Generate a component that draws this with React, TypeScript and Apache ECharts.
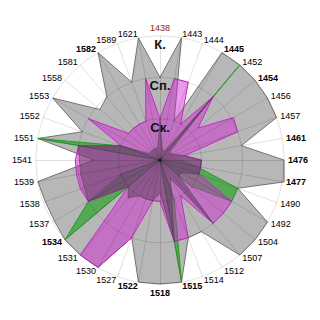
import React, { useEffect, useRef } from 'react';
import * as echarts from 'echarts';

// Categories, clockwise from the top
const categories = [
  '1438', '1443', '1444', '1445', '1452', '1454', '1456', '1457', '1461', '1476',
  '1477', '1490', '1492', '1504', '1507', '1512', '1514', '1515', '1518', '1522',
  '1527', '1530', '1531', '1534', '1537', '1538', '1539', '1541', '1551', '1552',
  '1553', '1558', '1581', '1582', '1589', '1621',
];
const boldLabels = ['1445', '1454', '1461', '1476', '1477', '1515', '1518', '1522', '1534', '1582'];
const highlightLabel = '1438';
const ringLabels = ['', 'Ск.', 'Сп.', 'К.'];

// Series values (0..3 rings)
const valuesK = [
  2, 3, 1, 3, 3, 3, 3, 3, 2, 3,
  3.05, 2, 3, 3, 3, 2, 2, 3, 3, 3,
  2, 3, 3, 3, 2.95, 2.95, 3, 1.6, 3, 2,
  3, 1.9, 2, 3, 2, 3,
];
const valuesGreen = [
  0, 0, 0, 0, 3, 0, 0, 0, 0, 0.5,
  0.9, 2, 2, 1, 0, 0, 1, 3, 0, 0,
  0, 0, 0, 3, 2, 1, 0, 0, 3, 1,
  0, 0, 0, 0, 0, 0,
];
const valuesSp = [
  1, 2, 2, 1, 2, 1.2, 2.05, 2, 0.6, 1,
  1, 1, 2, 2, 2, 1, 2, 2, 1, 1,
  2, 3, 3, 1, 2, 2.05, 2.05, 2.05, 2, 1,
  2, 1, 1, 1, 1, 2,
];
const valuesSk = [
  1, 0.3, 0.2, 0.3, 2, 0.3, 0.3, 0.4, 0.6, 1,
  1, 1, 0.6, 0.6, 2, 0.5, 0.8, 2, 0.8, 1,
  1, 1, 1.2, 1, 2, 1.95, 1.95, 1.95, 2, 1,
  0.3, 0.3, 0.3, 0.3, 0.3, 0.3,
];

const FONT = 'Arial, "Liberation Sans", sans-serif';

export default function App() {
  const ref = useRef<HTMLDivElement>(null);

  useEffect(() => {
    if (!ref.current) return;
    const chart = echarts.init(ref.current, undefined, { renderer: 'svg' });

    // ECharts radar lays indicators out counter-clockwise; reorder to get clockwise.
    const n = categories.length;
    const order = [0];
    for (let i = n - 1; i >= 1; i--) order.push(i);
    const pick = (arr: number[]) => order.map((i) => arr[i]);

    const indicator = order.map((i, k) => {
      const name = categories[i];
      const ind: any = { name, min: 0, max: 3 };
      if (k === 0) {
        ind.axisLabel = {
          show: true,
          margin: 0,
          align: 'center',
          verticalAlign: 'top',
          padding: [2, 0, 0, 0],
          fontSize: 13,
          fontWeight: 'bold',
          fontFamily: FONT,
          color: '#111',
          formatter: (v: number) => ringLabels[Math.round(v)] ?? '',
        };
      }
      return ind;
    });

    const makeSeries = (name: string, values: number[], area: string, line: string) => ({
      type: 'radar',
      name,
      z: 1,
      symbol: 'none',
      silent: true,
      data: [
        {
          value: pick(values),
          name,
          areaStyle: { color: area, opacity: 1 },
          lineStyle: { color: line, width: 1 },
        },
      ],
    });

    chart.setOption({
      animation: false,
      backgroundColor: '#fff',
      radar: {
        center: ['50%', '50%'],
        radius: 124,
        startAngle: 90,
        splitNumber: 3,
        shape: 'circle',
        z: 5,
        nameGap: 4,
        indicator,
        axisName: {
          fontSize: 9,
          fontFamily: FONT,
          color: '#000',
          formatter: (name: string) => {
            if (name === highlightLabel) return `{r|${name}}`;
            if (boldLabels.includes(name)) return `{b|${name}}`;
            return name;
          },
          rich: {
            b: { fontSize: 9, fontWeight: 'bold', color: '#000', fontFamily: FONT },
            r: { fontSize: 9, color: '#8b1a1a', fontFamily: FONT },
          },
        },
        splitLine: { lineStyle: { color: 'rgba(0,0,0,0.12)', width: 1 } },
        splitArea: { show: false },
        axisLine: { lineStyle: { color: 'rgba(0,0,0,0.12)', width: 1 } },
      },
      series: [
        makeSeries('К.', valuesK, 'rgba(96,96,96,0.45)', '#7a7a7a'),
        makeSeries('green', valuesGreen, 'rgba(20,160,20,0.6)', '#2e9e2e'),
        makeSeries('Сп.', valuesSp, 'rgba(210,30,210,0.45)', '#c030c0'),
        makeSeries('Ск.', valuesSk, 'rgba(90,60,90,0.5)', 'rgba(100,60,100,0.6)'),
      ],
    });

    return () => chart.dispose();
  }, []);

  return (
    <div
      ref={ref}
      style={{ position: 'fixed', left: 0, top: 0, width: 320, height: 320, background: '#fff' }}
    />
  );
}
